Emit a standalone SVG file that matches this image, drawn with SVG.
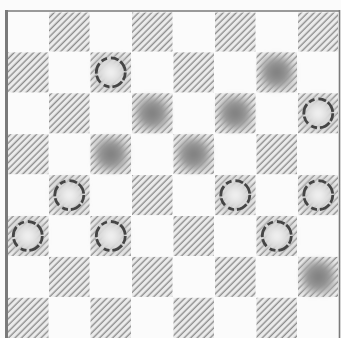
<svg xmlns="http://www.w3.org/2000/svg" width="341" height="338" viewBox="0 0 341 338">
<defs>
<pattern id="hatch" patternUnits="userSpaceOnUse" width="4.6" height="4.6" patternTransform="rotate(45)">
<rect width="4.6" height="4.6" fill="#ececec"/>
<line x1="1.2" y1="0" x2="1.2" y2="4.6" stroke="#8c8c8c" stroke-width="1.4"/>
</pattern>
<radialGradient id="blk">
<stop offset="0" stop-color="#7c7c7c"/>
<stop offset="0.65" stop-color="#989898"/>
<stop offset="1" stop-color="#b8b8b8" stop-opacity="0.5"/>
</radialGradient>
<radialGradient id="wht">
<stop offset="0" stop-color="#f6f6f6"/>
<stop offset="0.6" stop-color="#dadada"/>
<stop offset="1" stop-color="#bdbdbd" stop-opacity="0.4"/>
</radialGradient>
<filter id="soft" x="-30%" y="-30%" width="160%" height="160%"><feGaussianBlur stdDeviation="2.5"/></filter>
<filter id="soft1" x="-30%" y="-30%" width="160%" height="160%"><feGaussianBlur stdDeviation="0.5"/></filter>
<g id="bp"><rect x="-18" y="-18" width="36" height="36" rx="10" fill="url(#blk)" filter="url(#soft)"/></g>
<g id="wp"><rect x="-18" y="-18" width="36" height="36" rx="10" fill="url(#wht)" filter="url(#soft)"/><circle r="14.5" fill="none" stroke="#454545" stroke-width="2.8" stroke-dasharray="8 2 11 3 6 4" filter="url(#soft1)"/></g>
</defs>
<style>
.dk{fill:url(#hatch)}
.frame{stroke:#7a7a7a;fill:none}
</style>
<rect width="341" height="338" fill="#fbfbfb"/>
<g id="board">
<rect class="dk" x="49" y="12.5" width="40.5" height="39"/>
<rect class="dk" x="132" y="12.5" width="40.5" height="39"/>
<rect class="dk" x="215" y="12.5" width="40.5" height="39"/>
<rect class="dk" x="298" y="12.5" width="40" height="39"/>
<rect class="dk" x="8" y="52.4" width="40.5" height="40"/>
<rect class="dk" x="90.5" y="52.4" width="40.5" height="40"/>
<rect class="dk" x="173.5" y="52.4" width="40.5" height="40"/>
<rect class="dk" x="256.5" y="52.4" width="40.5" height="40"/>
<rect class="dk" x="49" y="93.3" width="40.5" height="40"/>
<rect class="dk" x="132" y="93.3" width="40.5" height="40"/>
<rect class="dk" x="215" y="93.3" width="40.5" height="40"/>
<rect class="dk" x="298" y="93.3" width="40" height="40"/>
<rect class="dk" x="8" y="134.2" width="40.5" height="40"/>
<rect class="dk" x="90.5" y="134.2" width="40.5" height="40"/>
<rect class="dk" x="173.5" y="134.2" width="40.5" height="40"/>
<rect class="dk" x="256.5" y="134.2" width="40.5" height="40"/>
<rect class="dk" x="49" y="175.1" width="40.5" height="40"/>
<rect class="dk" x="132" y="175.1" width="40.5" height="40"/>
<rect class="dk" x="215" y="175.1" width="40.5" height="40"/>
<rect class="dk" x="298" y="175.1" width="40" height="40"/>
<rect class="dk" x="8" y="216" width="40.5" height="40"/>
<rect class="dk" x="90.5" y="216" width="40.5" height="40"/>
<rect class="dk" x="173.5" y="216" width="40.5" height="40"/>
<rect class="dk" x="256.5" y="216" width="40.5" height="40"/>
<rect class="dk" x="49" y="256.9" width="40.5" height="40"/>
<rect class="dk" x="132" y="256.9" width="40.5" height="40"/>
<rect class="dk" x="215" y="256.9" width="40.5" height="40"/>
<rect class="dk" x="298" y="256.9" width="40" height="40"/>
<rect class="dk" x="8" y="297.8" width="40.5" height="40.2"/>
<rect class="dk" x="90.5" y="297.8" width="40.5" height="40.2"/>
<rect class="dk" x="173.5" y="297.8" width="40.5" height="40.2"/>
<rect class="dk" x="256.5" y="297.8" width="40.5" height="40.2"/>
<line class="frame" x1="5" y1="11" x2="340" y2="11" stroke-width="1.6"/>
<line class="frame" x1="6.5" y1="10" x2="6.5" y2="338" stroke-width="3" stroke="#6e6e6e"/>
<line class="frame" x1="339.5" y1="10" x2="339.5" y2="338" stroke-width="1.6"/>
</g>
<g id="pieces">
<use id="w-r1c2" href="#wp" x="110.8" y="72.4"/>
<use id="b-r1c6" href="#bp" x="276.8" y="72.4"/>
<use id="b-r2c3" href="#bp" x="152.3" y="113.3"/>
<use id="b-r2c5" href="#bp" x="235.3" y="113.3"/>
<use id="w-r2c7" href="#wp" x="318.3" y="113.3"/>
<use id="b-r3c2" href="#bp" x="110.8" y="154.2"/>
<use id="b-r3c4" href="#bp" x="193.8" y="154.2"/>
<use id="w-r4c1" href="#wp" x="69.3" y="195.1"/>
<use id="w-r4c5" href="#wp" x="235.3" y="195.1"/>
<use id="w-r4c7" href="#wp" x="318.3" y="195.1"/>
<use id="w-r5c0" href="#wp" x="27.8" y="236"/>
<use id="w-r5c2" href="#wp" x="110.8" y="236"/>
<use id="w-r5c6" href="#wp" x="276.8" y="236"/>
<use id="b-r6c7" href="#bp" x="318.3" y="276.9"/>
</g>
</svg>
